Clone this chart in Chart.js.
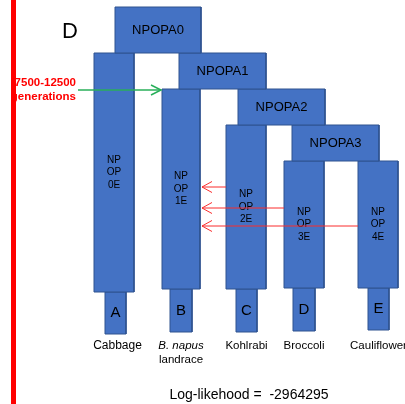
<!DOCTYPE html>
<html>
<head>
<meta charset="utf-8">
<script src="https://cdn.jsdelivr.net/npm/chart.js@4/dist/chart.umd.min.js"></script>
<style>
  body { margin: 0; background: #fff; }
  #wrap { width: 405px; height: 404px; position: relative; }
</style>
</head>
<body>
<div id="wrap"><canvas id="myChart"></canvas></div>
<script>
// diagram units: x across the panel, y = time going down (0 = top of panel)
const ancestralPops = ['NPOPA0', 'NPOPA1', 'NPOPA2', 'NPOPA3'];
const ancestralX = [[115, 201], [179, 266], [238, 325], [292, 379]];
const ancestralY = [[7, 53], [53, 89], [89, 125], [125, 161]];

const modernPops = ['NP\nOP\n0E', 'NP\nOP\n1E', 'NP\nOP\n2E', 'NP\nOP\n3E', 'NP\nOP\n4E'];
const modernX = [[94, 134], [162, 200], [226, 266], [284, 324], [358, 398]];
const modernY = [[53, 292], [89, 289], [125, 289], [161, 288], [161, 288]];

const sampleIds = ['A', 'B', 'C', 'D', 'E'];
const sampleX = [[105, 126], [170, 192], [236, 257], [293, 315], [368, 389]];
const sampleY = [[292, 334], [289, 332], [289, 332], [288, 331], [288, 330]];
const sampleNames = [['Cabbage'], ['B. napus', 'landrace'], ['Kohlrabi'], ['Broccoli'], ['Cauliflower']];

// gene flow: source modern pop -> target modern pop, at time y
const migrationFrom = [2, 3, 4];
const migrationTo = [1, 1, 1];
const migrationY = [187, 208, 226];

const splitLabel = ['7500-12500', 'generations'];
const splitY = 90;
const splitStartX = 78;

const logLikelihood = -2964295;

// ---- styles / layout ----
const BOX_FILL = '#4472C4';
const BOX_EDGE = '#2F528F';
const FONT = '"Liberation Sans", Arial, Helvetica, sans-serif';

function boxData(xs, ys) {
    return [
        { x: xs[0], y: ys[0] }, { x: xs[1], y: ys[0] },
        { x: xs[1], y: ys[1] }, { x: xs[0], y: ys[1] },
        { x: xs[0], y: ys[0] }
    ];
}

function boxSet(xs, ys) {
    return {
        data: boxData(xs, ys),
        fill: 'shape',
        backgroundColor: BOX_FILL,
        borderColor: BOX_EDGE,
        borderWidth: 1,
        pointRadius: 0,
        tension: 0,
        order: 2
    };
}

function lineSet(points, color, width) {
    return {
        data: points,
        fill: false,
        borderColor: color,
        borderWidth: width,
        pointRadius: 0,
        tension: 0,
        order: 1
    };
}

var datasets = [];
ancestralPops.forEach(function (p, i) { datasets.push(boxSet(ancestralX[i], ancestralY[i])); });
modernPops.forEach(function (p, i) { datasets.push(boxSet(modernX[i], modernY[i])); });
sampleIds.forEach(function (p, i) { datasets.push(boxSet(sampleX[i], sampleY[i])); });

// migration arrows
migrationFrom.forEach(function (src, i) {
    var y = migrationY[i];
    var x0 = modernX[src][0];
    var x1 = modernX[migrationTo[i]][1] + 2;
    datasets.push(lineSet([{ x: x0, y: y }, { x: x1, y: y }], 'rgb(250,45,45)', 1));
    datasets.push(lineSet([{ x: x1 + 10, y: y - 5.5 }, { x: x1, y: y }, { x: x1 + 10, y: y + 5.5 }], 'rgb(250,45,45)', 1));
});

// split time arrow
var splitEnd = modernX[1][0] - 1;
datasets.push(lineSet([{ x: splitStartX, y: splitY }, { x: splitEnd, y: splitY }], 'rgb(40,175,90)', 1.5));
datasets.push(lineSet([{ x: splitEnd - 10, y: splitY - 5 }, { x: splitEnd, y: splitY }, { x: splitEnd - 10, y: splitY + 5 }], 'rgb(40,175,90)', 1.5));

// red margin bar
var redBar = lineSet([{ x: 13.5, y: 0 }, { x: 13.5, y: 404 }], '#FF0000', 5);
redBar.order = 0;
datasets.push(redBar);

function px(chart, x) { return chart.scales.x.getPixelForValue(x); }
function py(chart, y) { return chart.scales.y.getPixelForValue(y); }

function multiline(ctx, text, x, y, lh) {
    var lines = text.split('\n');
    var start = y - (lines.length - 1) * lh / 2;
    lines.forEach(function (l, k) { ctx.fillText(l, x, start + k * lh); });
}

const diagramText = {
    id: 'diagramText',
    beforeDatasetsDraw: function (chart) {
        var ctx = chart.ctx;
        ctx.save();
        ctx.fillStyle = '#000';
        ctx.font = '22px ' + FONT;
        ctx.textAlign = 'center';
        ctx.textBaseline = 'middle';
        ctx.fillText('D', px(chart, 70), py(chart, 32));
        ctx.fillStyle = '#FF0000';
        ctx.font = 'bold 11.5px ' + FONT;
        ctx.textAlign = 'right';
        ctx.fillText(splitLabel[0], px(chart, 76), py(chart, splitY - 7));
        ctx.fillText(splitLabel[1], px(chart, 76), py(chart, splitY + 7));
        ctx.restore();
    },
    afterDatasetDraw: function (chart, args) {
        if (args.index !== 0) return;
        var ctx = chart.ctx;
        ctx.save();
        ctx.fillStyle = '#000';
        ctx.textAlign = 'center';
        ctx.textBaseline = 'middle';
        ctx.font = '13px ' + FONT;
        ancestralPops.forEach(function (p, i) {
            ctx.fillText(p, px(chart, (ancestralX[i][0] + ancestralX[i][1]) / 2), py(chart, (ancestralY[i][0] + ancestralY[i][1]) / 2));
        });
        ctx.font = '10px ' + FONT;
        modernPops.forEach(function (p, i) {
            multiline(ctx, p, px(chart, (modernX[i][0] + modernX[i][1]) / 2), py(chart, (modernY[i][0] + modernY[i][1]) / 2), 12.5);
        });
        ctx.font = '15px ' + FONT;
        sampleIds.forEach(function (p, i) {
            ctx.fillText(p, px(chart, (sampleX[i][0] + sampleX[i][1]) / 2), py(chart, (sampleY[i][0] + sampleY[i][1]) / 2));
        });
        ctx.restore();
    },
    afterDraw: function (chart) {
        var ctx = chart.ctx;
        ctx.save();
        ctx.fillStyle = '#000';
        ctx.textAlign = 'center';
        ctx.textBaseline = 'middle';
        sampleNames.forEach(function (lines, i) {
            var cx = px(chart, (sampleX[i][0] + sampleX[i][1]) / 2);
            if (i === 0) cx += 2;
            ctx.save();
            if (i === 0) {
                // the name runs under the next label's box in the original
                ctx.beginPath();
                ctx.rect(0, 0, px(chart, 143), chart.height);
                ctx.clip();
            }
            lines.forEach(function (l, k) {
                var italic = (l === 'B. napus');
                ctx.font = (italic ? 'italic ' : '') + (i === 0 ? '12px ' : '11.5px ') + FONT;
                ctx.fillText(l, cx, py(chart, 346 + k * 14));
            });
            ctx.restore();
        });
        ctx.font = '14px ' + FONT;
        ctx.fillText('Log-likehood =  ' + logLikelihood, px(chart, 249), py(chart, 395));
        ctx.restore();
    }
};

var ctx1 = document.getElementById('myChart').getContext('2d');

var myChart = new Chart(ctx1, {
    type: 'line',
    data: { datasets: datasets },
    options: {
        responsive: true,
        maintainAspectRatio: false,
        animation: false,
        events: [],
        layout: { padding: 0 },
        plugins: {
            legend: { display: false },
            tooltip: { enabled: false },
            title: { display: false }
        },
        scales: {
            x: { type: 'linear', min: 0, max: 405, display: false },
            y: { type: 'linear', min: 0, max: 404, reverse: true, display: false }
        }
    },
    plugins: [diagramText]
});
</script>
</body>
</html>
